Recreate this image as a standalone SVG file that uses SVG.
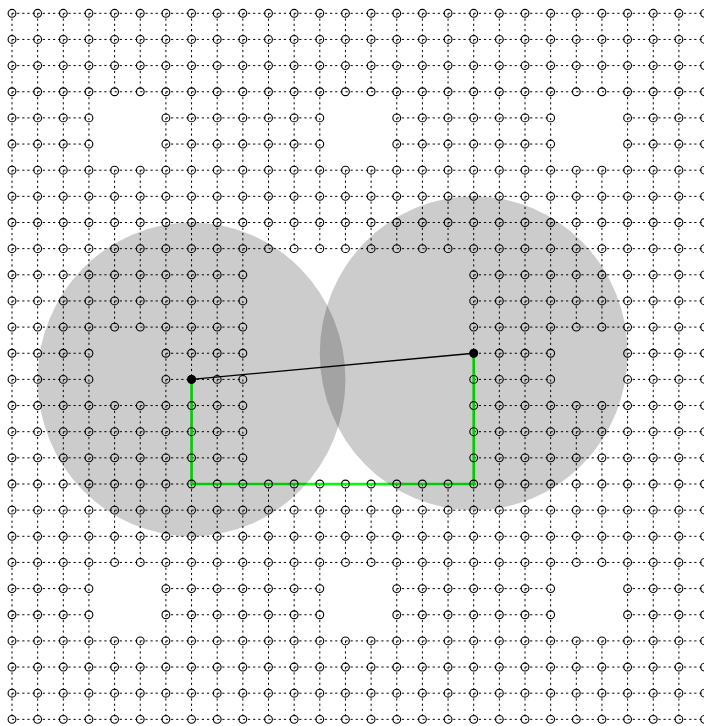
<svg xmlns="http://www.w3.org/2000/svg" width="704" height="726" viewBox="0 0 704 726">
<style>
.h{fill:none;stroke:#000;stroke-width:1;stroke-dasharray:2.2 2.93}
.v{fill:none;stroke:#000;stroke-width:1;stroke-dasharray:2.2 3.03}
.n circle{fill:none;stroke:#000;stroke-width:1.1;r:3.9px}
.disk{fill:#000;fill-opacity:0.2}
.path{fill:none;stroke:#00ff00;stroke-width:2.6}
.sight{fill:none;stroke:#000;stroke-width:1.3}
.end{fill:#000}
</style>
<rect width="704" height="726" fill="#fff"/>
<g id="connectors">
<path id="h-edges" class="h" d="M12 13.3H704.55M12 39.45H704.55M12 65.6H704.55M12 91.75H704.55M12 170.2H704.55M12 196.35H704.55M12 222.5H704.55M12 248.65H704.55M12 484H704.55M12 510.15H704.55M12 536.3H704.55M12 562.45H704.55M12 640.9H704.55M12 667.05H704.55M12 693.2H704.55M12 719.35H704.55
M12 117.9H88.95M165.9 117.9H319.8M396.75 117.9H550.65M627.6 117.9H704.55
M12 144.05H88.95M165.9 144.05H319.8M396.75 144.05H550.65M627.6 144.05H704.55
M12 588.6H88.95M165.9 588.6H319.8M396.75 588.6H550.65M627.6 588.6H704.55
M12 614.75H88.95M165.9 614.75H319.8M396.75 614.75H550.65M627.6 614.75H704.55
M12 274.8H242.85M473.7 274.8H704.55M12 300.95H242.85M473.7 300.95H704.55M12 327.1H242.85M473.7 327.1H704.55
M12 405.55H242.85M473.7 405.55H704.55M12 431.7H242.85M473.7 431.7H704.55M12 457.85H242.85M473.7 457.85H704.55
M12 353.25H88.95M165.9 353.25H242.85M473.7 353.25H550.65M627.6 353.25H704.55
M12 379.4H88.95M165.9 379.4H242.85M473.7 379.4H550.65M627.6 379.4H704.55"/>
<path id="v-edges" class="v" d="M12 13.3V719.35M37.65 13.3V719.35M63.3 13.3V719.35M88.95 13.3V719.35M165.9 13.3V719.35M191.55 13.3V719.35M217.2 13.3V719.35M242.85 13.3V719.35M473.7 13.3V719.35M499.35 13.3V719.35M525 13.3V719.35M550.65 13.3V719.35M627.6 13.3V719.35M653.25 13.3V719.35M678.9 13.3V719.35M704.55 13.3V719.35
M114.6 13.3V91.75M114.6 170.2V327.1M114.6 405.55V562.45M114.6 640.9V719.35
M140.25 13.3V91.75M140.25 170.2V327.1M140.25 405.55V562.45M140.25 640.9V719.35
M576.3 13.3V91.75M576.3 170.2V327.1M576.3 405.55V562.45M576.3 640.9V719.35
M601.95 13.3V91.75M601.95 170.2V327.1M601.95 405.55V562.45M601.95 640.9V719.35
M268.5 13.3V248.65M268.5 484V719.35M294.15 13.3V248.65M294.15 484V719.35M319.8 13.3V248.65M319.8 484V719.35
M396.75 13.3V248.65M396.75 484V719.35M422.4 13.3V248.65M422.4 484V719.35M448.05 13.3V248.65M448.05 484V719.35
M345.45 13.3V91.75M345.45 170.2V248.65M345.45 484V562.45M345.45 640.9V719.35
M371.1 13.3V91.75M371.1 170.2V248.65M371.1 484V562.45M371.1 640.9V719.35"/>
<path id="found-path" class="path" d="M191.55 379.4V484H473.7V353.25"/>
</g>
<g id="nodes" class="n">
<g id="row0" transform="translate(0 13.3)"><circle cx="12"/><circle cx="37.65"/><circle cx="63.3"/><circle cx="88.95"/><circle cx="114.6"/><circle cx="140.25"/><circle cx="165.9"/><circle cx="191.55"/><circle cx="217.2"/><circle cx="242.85"/><circle cx="268.5"/><circle cx="294.15"/><circle cx="319.8"/><circle cx="345.45"/><circle cx="371.1"/><circle cx="396.75"/><circle cx="422.4"/><circle cx="448.05"/><circle cx="473.7"/><circle cx="499.35"/><circle cx="525"/><circle cx="550.65"/><circle cx="576.3"/><circle cx="601.95"/><circle cx="627.6"/><circle cx="653.25"/><circle cx="678.9"/><circle cx="704.55"/></g>
<g id="row1" transform="translate(0 39.45)"><circle cx="12"/><circle cx="37.65"/><circle cx="63.3"/><circle cx="88.95"/><circle cx="114.6"/><circle cx="140.25"/><circle cx="165.9"/><circle cx="191.55"/><circle cx="217.2"/><circle cx="242.85"/><circle cx="268.5"/><circle cx="294.15"/><circle cx="319.8"/><circle cx="345.45"/><circle cx="371.1"/><circle cx="396.75"/><circle cx="422.4"/><circle cx="448.05"/><circle cx="473.7"/><circle cx="499.35"/><circle cx="525"/><circle cx="550.65"/><circle cx="576.3"/><circle cx="601.95"/><circle cx="627.6"/><circle cx="653.25"/><circle cx="678.9"/><circle cx="704.55"/></g>
<g id="row2" transform="translate(0 65.6)"><circle cx="12"/><circle cx="37.65"/><circle cx="63.3"/><circle cx="88.95"/><circle cx="114.6"/><circle cx="140.25"/><circle cx="165.9"/><circle cx="191.55"/><circle cx="217.2"/><circle cx="242.85"/><circle cx="268.5"/><circle cx="294.15"/><circle cx="319.8"/><circle cx="345.45"/><circle cx="371.1"/><circle cx="396.75"/><circle cx="422.4"/><circle cx="448.05"/><circle cx="473.7"/><circle cx="499.35"/><circle cx="525"/><circle cx="550.65"/><circle cx="576.3"/><circle cx="601.95"/><circle cx="627.6"/><circle cx="653.25"/><circle cx="678.9"/><circle cx="704.55"/></g>
<g id="row3" transform="translate(0 91.75)"><circle cx="12"/><circle cx="37.65"/><circle cx="63.3"/><circle cx="88.95"/><circle cx="114.6"/><circle cx="140.25"/><circle cx="165.9"/><circle cx="191.55"/><circle cx="217.2"/><circle cx="242.85"/><circle cx="268.5"/><circle cx="294.15"/><circle cx="319.8"/><circle cx="345.45"/><circle cx="371.1"/><circle cx="396.75"/><circle cx="422.4"/><circle cx="448.05"/><circle cx="473.7"/><circle cx="499.35"/><circle cx="525"/><circle cx="550.65"/><circle cx="576.3"/><circle cx="601.95"/><circle cx="627.6"/><circle cx="653.25"/><circle cx="678.9"/><circle cx="704.55"/></g>
<g id="row4" transform="translate(0 117.9)"><circle cx="12"/><circle cx="37.65"/><circle cx="63.3"/><circle cx="88.95"/><circle cx="165.9"/><circle cx="191.55"/><circle cx="217.2"/><circle cx="242.85"/><circle cx="268.5"/><circle cx="294.15"/><circle cx="319.8"/><circle cx="396.75"/><circle cx="422.4"/><circle cx="448.05"/><circle cx="473.7"/><circle cx="499.35"/><circle cx="525"/><circle cx="550.65"/><circle cx="627.6"/><circle cx="653.25"/><circle cx="678.9"/><circle cx="704.55"/></g>
<g id="row5" transform="translate(0 144.05)"><circle cx="12"/><circle cx="37.65"/><circle cx="63.3"/><circle cx="88.95"/><circle cx="165.9"/><circle cx="191.55"/><circle cx="217.2"/><circle cx="242.85"/><circle cx="268.5"/><circle cx="294.15"/><circle cx="319.8"/><circle cx="396.75"/><circle cx="422.4"/><circle cx="448.05"/><circle cx="473.7"/><circle cx="499.35"/><circle cx="525"/><circle cx="550.65"/><circle cx="627.6"/><circle cx="653.25"/><circle cx="678.9"/><circle cx="704.55"/></g>
<g id="row6" transform="translate(0 170.2)"><circle cx="12"/><circle cx="37.65"/><circle cx="63.3"/><circle cx="88.95"/><circle cx="114.6"/><circle cx="140.25"/><circle cx="165.9"/><circle cx="191.55"/><circle cx="217.2"/><circle cx="242.85"/><circle cx="268.5"/><circle cx="294.15"/><circle cx="319.8"/><circle cx="345.45"/><circle cx="371.1"/><circle cx="396.75"/><circle cx="422.4"/><circle cx="448.05"/><circle cx="473.7"/><circle cx="499.35"/><circle cx="525"/><circle cx="550.65"/><circle cx="576.3"/><circle cx="601.95"/><circle cx="627.6"/><circle cx="653.25"/><circle cx="678.9"/><circle cx="704.55"/></g>
<g id="row7" transform="translate(0 196.35)"><circle cx="12"/><circle cx="37.65"/><circle cx="63.3"/><circle cx="88.95"/><circle cx="114.6"/><circle cx="140.25"/><circle cx="165.9"/><circle cx="191.55"/><circle cx="217.2"/><circle cx="242.85"/><circle cx="268.5"/><circle cx="294.15"/><circle cx="319.8"/><circle cx="345.45"/><circle cx="371.1"/><circle cx="396.75"/><circle cx="422.4"/><circle cx="448.05"/><circle cx="473.7"/><circle cx="499.35"/><circle cx="525"/><circle cx="550.65"/><circle cx="576.3"/><circle cx="601.95"/><circle cx="627.6"/><circle cx="653.25"/><circle cx="678.9"/><circle cx="704.55"/></g>
<g id="row8" transform="translate(0 222.5)"><circle cx="12"/><circle cx="37.65"/><circle cx="63.3"/><circle cx="88.95"/><circle cx="114.6"/><circle cx="140.25"/><circle cx="165.9"/><circle cx="191.55"/><circle cx="217.2"/><circle cx="242.85"/><circle cx="268.5"/><circle cx="294.15"/><circle cx="319.8"/><circle cx="345.45"/><circle cx="371.1"/><circle cx="396.75"/><circle cx="422.4"/><circle cx="448.05"/><circle cx="473.7"/><circle cx="499.35"/><circle cx="525"/><circle cx="550.65"/><circle cx="576.3"/><circle cx="601.95"/><circle cx="627.6"/><circle cx="653.25"/><circle cx="678.9"/><circle cx="704.55"/></g>
<g id="row9" transform="translate(0 248.65)"><circle cx="12"/><circle cx="37.65"/><circle cx="63.3"/><circle cx="88.95"/><circle cx="114.6"/><circle cx="140.25"/><circle cx="165.9"/><circle cx="191.55"/><circle cx="217.2"/><circle cx="242.85"/><circle cx="268.5"/><circle cx="294.15"/><circle cx="319.8"/><circle cx="345.45"/><circle cx="371.1"/><circle cx="396.75"/><circle cx="422.4"/><circle cx="448.05"/><circle cx="473.7"/><circle cx="499.35"/><circle cx="525"/><circle cx="550.65"/><circle cx="576.3"/><circle cx="601.95"/><circle cx="627.6"/><circle cx="653.25"/><circle cx="678.9"/><circle cx="704.55"/></g>
<g id="row10" transform="translate(0 274.8)"><circle cx="12"/><circle cx="37.65"/><circle cx="63.3"/><circle cx="88.95"/><circle cx="114.6"/><circle cx="140.25"/><circle cx="165.9"/><circle cx="191.55"/><circle cx="217.2"/><circle cx="242.85"/><circle cx="473.7"/><circle cx="499.35"/><circle cx="525"/><circle cx="550.65"/><circle cx="576.3"/><circle cx="601.95"/><circle cx="627.6"/><circle cx="653.25"/><circle cx="678.9"/><circle cx="704.55"/></g>
<g id="row11" transform="translate(0 300.95)"><circle cx="12"/><circle cx="37.65"/><circle cx="63.3"/><circle cx="88.95"/><circle cx="114.6"/><circle cx="140.25"/><circle cx="165.9"/><circle cx="191.55"/><circle cx="217.2"/><circle cx="242.85"/><circle cx="473.7"/><circle cx="499.35"/><circle cx="525"/><circle cx="550.65"/><circle cx="576.3"/><circle cx="601.95"/><circle cx="627.6"/><circle cx="653.25"/><circle cx="678.9"/><circle cx="704.55"/></g>
<g id="row12" transform="translate(0 327.1)"><circle cx="12"/><circle cx="37.65"/><circle cx="63.3"/><circle cx="88.95"/><circle cx="114.6"/><circle cx="140.25"/><circle cx="165.9"/><circle cx="191.55"/><circle cx="217.2"/><circle cx="242.85"/><circle cx="473.7"/><circle cx="499.35"/><circle cx="525"/><circle cx="550.65"/><circle cx="576.3"/><circle cx="601.95"/><circle cx="627.6"/><circle cx="653.25"/><circle cx="678.9"/><circle cx="704.55"/></g>
<g id="row13" transform="translate(0 353.25)"><circle cx="12"/><circle cx="37.65"/><circle cx="63.3"/><circle cx="88.95"/><circle cx="165.9"/><circle cx="191.55"/><circle cx="217.2"/><circle cx="242.85"/><circle cx="473.7"/><circle cx="499.35"/><circle cx="525"/><circle cx="550.65"/><circle cx="627.6"/><circle cx="653.25"/><circle cx="678.9"/><circle cx="704.55"/></g>
<g id="row14" transform="translate(0 379.4)"><circle cx="12"/><circle cx="37.65"/><circle cx="63.3"/><circle cx="88.95"/><circle cx="165.9"/><circle cx="191.55"/><circle cx="217.2"/><circle cx="242.85"/><circle cx="473.7"/><circle cx="499.35"/><circle cx="525"/><circle cx="550.65"/><circle cx="627.6"/><circle cx="653.25"/><circle cx="678.9"/><circle cx="704.55"/></g>
<g id="row15" transform="translate(0 405.55)"><circle cx="12"/><circle cx="37.65"/><circle cx="63.3"/><circle cx="88.95"/><circle cx="114.6"/><circle cx="140.25"/><circle cx="165.9"/><circle cx="191.55"/><circle cx="217.2"/><circle cx="242.85"/><circle cx="473.7"/><circle cx="499.35"/><circle cx="525"/><circle cx="550.65"/><circle cx="576.3"/><circle cx="601.95"/><circle cx="627.6"/><circle cx="653.25"/><circle cx="678.9"/><circle cx="704.55"/></g>
<g id="row16" transform="translate(0 431.7)"><circle cx="12"/><circle cx="37.65"/><circle cx="63.3"/><circle cx="88.95"/><circle cx="114.6"/><circle cx="140.25"/><circle cx="165.9"/><circle cx="191.55"/><circle cx="217.2"/><circle cx="242.85"/><circle cx="473.7"/><circle cx="499.35"/><circle cx="525"/><circle cx="550.65"/><circle cx="576.3"/><circle cx="601.95"/><circle cx="627.6"/><circle cx="653.25"/><circle cx="678.9"/><circle cx="704.55"/></g>
<g id="row17" transform="translate(0 457.85)"><circle cx="12"/><circle cx="37.65"/><circle cx="63.3"/><circle cx="88.95"/><circle cx="114.6"/><circle cx="140.25"/><circle cx="165.9"/><circle cx="191.55"/><circle cx="217.2"/><circle cx="242.85"/><circle cx="473.7"/><circle cx="499.35"/><circle cx="525"/><circle cx="550.65"/><circle cx="576.3"/><circle cx="601.95"/><circle cx="627.6"/><circle cx="653.25"/><circle cx="678.9"/><circle cx="704.55"/></g>
<g id="row18" transform="translate(0 484)"><circle cx="12"/><circle cx="37.65"/><circle cx="63.3"/><circle cx="88.95"/><circle cx="114.6"/><circle cx="140.25"/><circle cx="165.9"/><circle cx="191.55"/><circle cx="217.2"/><circle cx="242.85"/><circle cx="268.5"/><circle cx="294.15"/><circle cx="319.8"/><circle cx="345.45"/><circle cx="371.1"/><circle cx="396.75"/><circle cx="422.4"/><circle cx="448.05"/><circle cx="473.7"/><circle cx="499.35"/><circle cx="525"/><circle cx="550.65"/><circle cx="576.3"/><circle cx="601.95"/><circle cx="627.6"/><circle cx="653.25"/><circle cx="678.9"/><circle cx="704.55"/></g>
<g id="row19" transform="translate(0 510.15)"><circle cx="12"/><circle cx="37.65"/><circle cx="63.3"/><circle cx="88.95"/><circle cx="114.6"/><circle cx="140.25"/><circle cx="165.9"/><circle cx="191.55"/><circle cx="217.2"/><circle cx="242.85"/><circle cx="268.5"/><circle cx="294.15"/><circle cx="319.8"/><circle cx="345.45"/><circle cx="371.1"/><circle cx="396.75"/><circle cx="422.4"/><circle cx="448.05"/><circle cx="473.7"/><circle cx="499.35"/><circle cx="525"/><circle cx="550.65"/><circle cx="576.3"/><circle cx="601.95"/><circle cx="627.6"/><circle cx="653.25"/><circle cx="678.9"/><circle cx="704.55"/></g>
<g id="row20" transform="translate(0 536.3)"><circle cx="12"/><circle cx="37.65"/><circle cx="63.3"/><circle cx="88.95"/><circle cx="114.6"/><circle cx="140.25"/><circle cx="165.9"/><circle cx="191.55"/><circle cx="217.2"/><circle cx="242.85"/><circle cx="268.5"/><circle cx="294.15"/><circle cx="319.8"/><circle cx="345.45"/><circle cx="371.1"/><circle cx="396.75"/><circle cx="422.4"/><circle cx="448.05"/><circle cx="473.7"/><circle cx="499.35"/><circle cx="525"/><circle cx="550.65"/><circle cx="576.3"/><circle cx="601.95"/><circle cx="627.6"/><circle cx="653.25"/><circle cx="678.9"/><circle cx="704.55"/></g>
<g id="row21" transform="translate(0 562.45)"><circle cx="12"/><circle cx="37.65"/><circle cx="63.3"/><circle cx="88.95"/><circle cx="114.6"/><circle cx="140.25"/><circle cx="165.9"/><circle cx="191.55"/><circle cx="217.2"/><circle cx="242.85"/><circle cx="268.5"/><circle cx="294.15"/><circle cx="319.8"/><circle cx="345.45"/><circle cx="371.1"/><circle cx="396.75"/><circle cx="422.4"/><circle cx="448.05"/><circle cx="473.7"/><circle cx="499.35"/><circle cx="525"/><circle cx="550.65"/><circle cx="576.3"/><circle cx="601.95"/><circle cx="627.6"/><circle cx="653.25"/><circle cx="678.9"/><circle cx="704.55"/></g>
<g id="row22" transform="translate(0 588.6)"><circle cx="12"/><circle cx="37.65"/><circle cx="63.3"/><circle cx="88.95"/><circle cx="165.9"/><circle cx="191.55"/><circle cx="217.2"/><circle cx="242.85"/><circle cx="268.5"/><circle cx="294.15"/><circle cx="319.8"/><circle cx="396.75"/><circle cx="422.4"/><circle cx="448.05"/><circle cx="473.7"/><circle cx="499.35"/><circle cx="525"/><circle cx="550.65"/><circle cx="627.6"/><circle cx="653.25"/><circle cx="678.9"/><circle cx="704.55"/></g>
<g id="row23" transform="translate(0 614.75)"><circle cx="12"/><circle cx="37.65"/><circle cx="63.3"/><circle cx="88.95"/><circle cx="165.9"/><circle cx="191.55"/><circle cx="217.2"/><circle cx="242.85"/><circle cx="268.5"/><circle cx="294.15"/><circle cx="319.8"/><circle cx="396.75"/><circle cx="422.4"/><circle cx="448.05"/><circle cx="473.7"/><circle cx="499.35"/><circle cx="525"/><circle cx="550.65"/><circle cx="627.6"/><circle cx="653.25"/><circle cx="678.9"/><circle cx="704.55"/></g>
<g id="row24" transform="translate(0 640.9)"><circle cx="12"/><circle cx="37.65"/><circle cx="63.3"/><circle cx="88.95"/><circle cx="114.6"/><circle cx="140.25"/><circle cx="165.9"/><circle cx="191.55"/><circle cx="217.2"/><circle cx="242.85"/><circle cx="268.5"/><circle cx="294.15"/><circle cx="319.8"/><circle cx="345.45"/><circle cx="371.1"/><circle cx="396.75"/><circle cx="422.4"/><circle cx="448.05"/><circle cx="473.7"/><circle cx="499.35"/><circle cx="525"/><circle cx="550.65"/><circle cx="576.3"/><circle cx="601.95"/><circle cx="627.6"/><circle cx="653.25"/><circle cx="678.9"/><circle cx="704.55"/></g>
<g id="row25" transform="translate(0 667.05)"><circle cx="12"/><circle cx="37.65"/><circle cx="63.3"/><circle cx="88.95"/><circle cx="114.6"/><circle cx="140.25"/><circle cx="165.9"/><circle cx="191.55"/><circle cx="217.2"/><circle cx="242.85"/><circle cx="268.5"/><circle cx="294.15"/><circle cx="319.8"/><circle cx="345.45"/><circle cx="371.1"/><circle cx="396.75"/><circle cx="422.4"/><circle cx="448.05"/><circle cx="473.7"/><circle cx="499.35"/><circle cx="525"/><circle cx="550.65"/><circle cx="576.3"/><circle cx="601.95"/><circle cx="627.6"/><circle cx="653.25"/><circle cx="678.9"/><circle cx="704.55"/></g>
<g id="row26" transform="translate(0 693.2)"><circle cx="12"/><circle cx="37.65"/><circle cx="63.3"/><circle cx="88.95"/><circle cx="114.6"/><circle cx="140.25"/><circle cx="165.9"/><circle cx="191.55"/><circle cx="217.2"/><circle cx="242.85"/><circle cx="268.5"/><circle cx="294.15"/><circle cx="319.8"/><circle cx="345.45"/><circle cx="371.1"/><circle cx="396.75"/><circle cx="422.4"/><circle cx="448.05"/><circle cx="473.7"/><circle cx="499.35"/><circle cx="525"/><circle cx="550.65"/><circle cx="576.3"/><circle cx="601.95"/><circle cx="627.6"/><circle cx="653.25"/><circle cx="678.9"/><circle cx="704.55"/></g>
<g id="row27" transform="translate(0 719.35)"><circle cx="12"/><circle cx="37.65"/><circle cx="63.3"/><circle cx="88.95"/><circle cx="114.6"/><circle cx="140.25"/><circle cx="165.9"/><circle cx="191.55"/><circle cx="217.2"/><circle cx="242.85"/><circle cx="268.5"/><circle cx="294.15"/><circle cx="319.8"/><circle cx="345.45"/><circle cx="371.1"/><circle cx="396.75"/><circle cx="422.4"/><circle cx="448.05"/><circle cx="473.7"/><circle cx="499.35"/><circle cx="525"/><circle cx="550.65"/><circle cx="576.3"/><circle cx="601.95"/><circle cx="627.6"/><circle cx="653.25"/><circle cx="678.9"/><circle cx="704.55"/></g>
</g>
<g id="disks">
<ellipse id="disk-start" class="disk" cx="191.55" cy="379.4" rx="153.9" ry="156.9"/>
<ellipse id="disk-goal" class="disk" cx="473.7" cy="353.25" rx="153.9" ry="156.9"/>
</g>
<g id="sightline">
<line class="sight" x1="191.55" y1="379.4" x2="473.7" y2="353.25"/>
</g>
<g id="start"><circle class="end" cx="191.55" cy="379.4" r="4.3"/></g>
<g id="goal"><circle class="end" cx="473.7" cy="353.25" r="4.3"/></g>
</svg>
